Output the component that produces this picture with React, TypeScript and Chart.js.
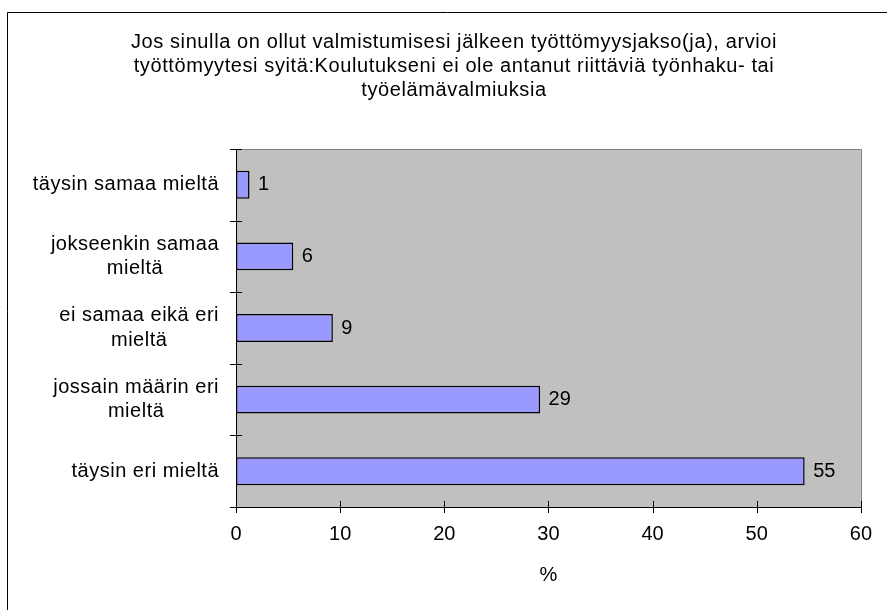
import React, { useEffect, useRef } from 'react';
import { Chart, registerables } from 'chart.js';

Chart.register(...registerables);

const titleLines = [
  'Jos sinulla on ollut valmistumisesi jälkeen työttömyysjakso(ja), arvioi',
  'työttömyytesi syitä:Koulutukseni ei ole antanut riittäviä työnhaku- tai',
  'työelämävalmiuksia',
];
const categories = [
  ['täysin samaa mieltä'],
  ['jokseenkin samaa', 'mieltä'],
  ['ei samaa eikä eri', 'mieltä'],
  ['jossain määrin eri', 'mieltä'],
  ['täysin eri mieltä'],
];
const values = [1.3, 5.5, 9.3, 29.2, 54.6];
const valueLabels = ['1', '6', '9', '29', '55'];
const xMin = 0;
const xMax = 60;
const xStep = 10;
const xTitle = '%';

const FONT = '"Liberation Sans", Arial, sans-serif';
const FS = 20;

const decorPlugin = {
  id: 'decor',
  beforeDraw(chart: any) {
    const { ctx, chartArea: a } = chart;
    ctx.save();
    ctx.fillStyle = '#C0C0C0';
    ctx.fillRect(a.left, a.top, a.right - a.left, a.bottom - a.top);
    // outer chart frame (only left & top visible)
    ctx.strokeStyle = '#000';
    ctx.lineWidth = 1;
    ctx.beginPath();
    ctx.moveTo(7.5, chart.height + 5);
    ctx.lineTo(7.5, 12.5);
    ctx.lineTo(chart.width + 5, 12.5);
    ctx.stroke();
    // title
    ctx.fillStyle = '#000';
    ctx.font = `${FS}px ${FONT}`;
    ctx.textAlign = 'center';
    ctx.textBaseline = 'alphabetic';
    (ctx as any).letterSpacing = '0.6px';
    titleLines.forEach((t, i) => ctx.fillText(t, 454, 48 + i * 24));
    ctx.restore();
  },
  afterDatasetsDraw(chart: any) {
    const { ctx, chartArea: a } = chart;
    const xs = chart.scales.x;
    const ys = chart.scales.y;
    ctx.save();
    // gray top/right border of plot
    ctx.strokeStyle = '#808080';
    ctx.lineWidth = 1;
    ctx.beginPath();
    ctx.moveTo(Math.round(a.left) + 0.5, Math.round(a.top) + 0.5);
    ctx.lineTo(Math.round(a.right) + 0.5, Math.round(a.top) + 0.5);
    ctx.lineTo(Math.round(a.right) + 0.5, Math.round(a.bottom) + 0.5);
    ctx.stroke();
    // cross ticks
    ctx.strokeStyle = '#000';
    ctx.beginPath();
    for (let v = xMin; v <= xMax; v += xStep) {
      const px = Math.round(xs.getPixelForValue(v)) + 0.5;
      ctx.moveTo(px, a.bottom - 6);
      ctx.lineTo(px, a.bottom + 6);
    }
    const half = (ys.getPixelForValue(1) - ys.getPixelForValue(0)) / 2;
    for (let i = 0; i <= categories.length; i++) {
      const py = Math.round(ys.getPixelForValue(i) - half) + 0.5;
      ctx.moveTo(a.left - 6, py);
      ctx.lineTo(a.left + 6, py);
    }
    ctx.stroke();
    // category labels (lines centered within block)
    ctx.fillStyle = '#000';
    ctx.font = `${FS}px ${FONT}`;
    (ctx as any).letterSpacing = '0.5px';
    ctx.textBaseline = 'middle';
    ctx.textAlign = 'center';
    categories.forEach((lines, i) => {
      const yc = ys.getPixelForValue(i);
      const maxW = Math.max(...lines.map((l) => ctx.measureText(l).width));
      const cx = a.left - 17 - maxW / 2;
      const y0 = yc - ((lines.length - 1) * 24.5) / 2;
      lines.forEach((l, j) => ctx.fillText(l, cx, y0 + j * 24.5));
    });
    // value labels
    (ctx as any).letterSpacing = '0px';
    const meta = chart.getDatasetMeta(0);
    ctx.textAlign = 'left';
    meta.data.forEach((el: any, i: number) => {
      ctx.fillText(valueLabels[i], el.x + 8.5, el.y);
    });
    ctx.restore();
  },
};

export default function App() {
  const ref = useRef<HTMLCanvasElement>(null);
  useEffect(() => {
    if (!ref.current) return;
    const chart = new Chart(ref.current, {
      type: 'bar',
      data: {
        labels: categories.map((c) => c.join(' ')),
        datasets: [
          {
            data: values,
            backgroundColor: '#9999FF',
            borderColor: '#000000',
            borderWidth: 1.5,
            borderSkipped: false,
            barPercentage: 0.39,
            categoryPercentage: 1,
          },
        ],
      },
      options: {
        indexAxis: 'y',
        responsive: true,
        maintainAspectRatio: false,
        animation: false,
        layout: { padding: { top: 149, right: 21, left: 0, bottom: 0 } },
        plugins: {
          legend: { display: false },
          tooltip: { enabled: false },
          title: { display: false },
        },
        scales: {
          x: {
            type: 'linear',
            min: xMin,
            max: xMax,
            ticks: {
              stepSize: xStep,
              color: '#000',
              font: { family: FONT, size: FS },
              padding: 15,
              maxRotation: 0,
            },
            grid: { display: false, drawTicks: false },
            border: { display: true, color: '#000', width: 1 },
            title: {
              display: true,
              text: xTitle,
              color: '#000',
              font: { family: FONT, size: FS },
              padding: { top: 0, bottom: 23 },
            },
            afterFit: (s: any) => {
              s.height = 103;
            },
          },
          y: {
            type: 'category',
            offset: true,
            ticks: { display: false },
            grid: { display: false, drawTicks: false },
            border: { display: true, color: '#000', width: 1 },
            afterFit: (s: any) => {
              s.width = 236;
            },
          },
        },
      },
      plugins: [decorPlugin],
    } as any);
    return () => chart.destroy();
  }, []);
  return (
    <div style={{ position: 'absolute', left: 0, top: 0, width: 887, height: 610 }}>
      <canvas ref={ref} />
    </div>
  );
}
